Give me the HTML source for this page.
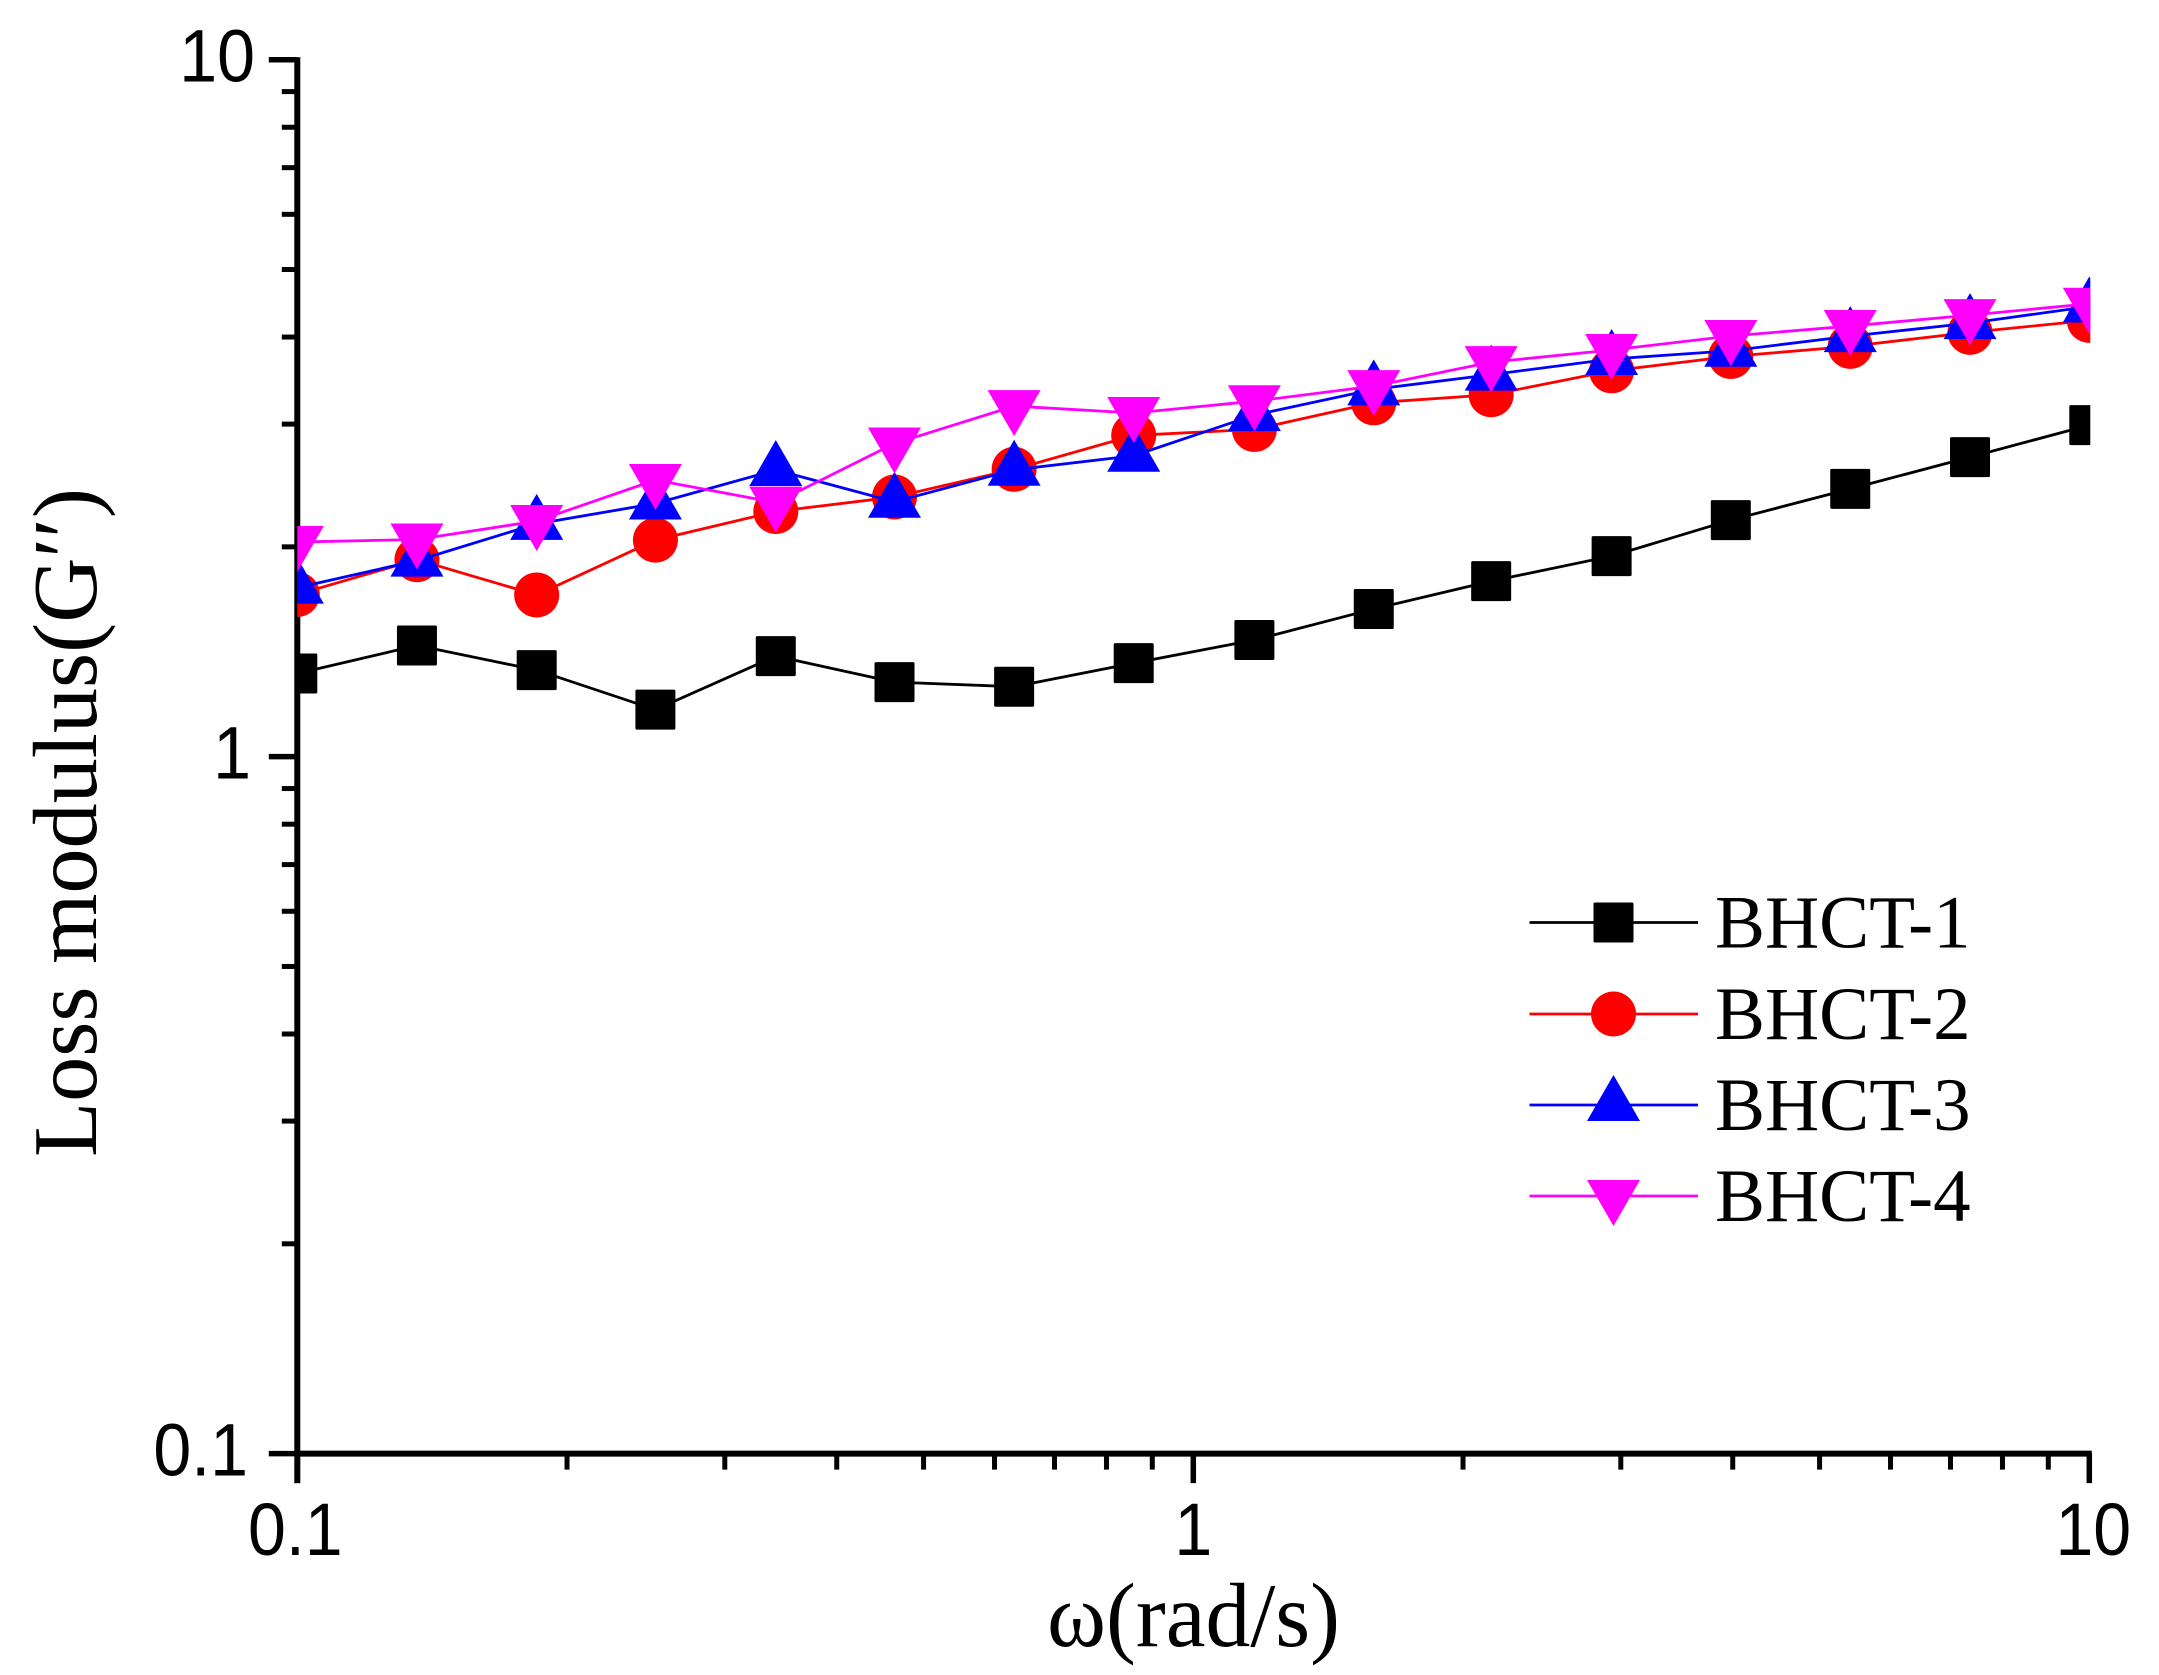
<!DOCTYPE html>
<html>
<head>
<meta charset="utf-8">
<title>Loss modulus chart</title>
<style>
html,body{margin:0;padding:0;background:#fff;}
svg{display:block;}
.tick-text{font-family:"Liberation Sans",sans-serif;font-size:74px;fill:#000;}
.serif-text{font-family:"Liberation Serif",serif;fill:#000;}
</style>
</head>
<body>
<svg id="chart" xmlns="http://www.w3.org/2000/svg" width="2159" height="1675" viewBox="0 0 2159 1675">
<defs><clipPath id="plot-clip"><rect x="297.3" y="0" width="1793" height="1675"/></clipPath></defs>
<rect x="0" y="0" width="2159" height="1675" fill="#ffffff"/>
<g id="axes"></g>
<g id="series" clip-path="url(#plot-clip)"></g>
<g id="legend"></g>
<text class="serif-text" x="1047" y="1646" font-size="91" textLength="293" lengthAdjust="spacingAndGlyphs">ω(rad/s)</text>
<text class="serif-text" transform="translate(96,1157) rotate(-90)" x="0" y="0" font-size="91" textLength="669" lengthAdjust="spacingAndGlyphs">Loss modulus(G′′)</text>
</svg>
<script>
var frequencies = [0.1, 0.136, 0.185, 0.251, 0.342, 0.464, 0.631, 0.858, 1.17, 1.59, 2.15, 2.93, 3.98, 5.41, 7.36, 10];
var bhct1 = [1.316, 1.444, 1.331, 1.168, 1.394, 1.279, 1.26, 1.362, 1.47, 1.629, 1.786, 1.94, 2.185, 2.422, 2.69, 2.99];
var bhct2 = [1.709, 1.917, 1.706, 2.045, 2.248, 2.358, 2.584, 2.89, 2.948, 3.219, 3.306, 3.578, 3.752, 3.879, 4.062, 4.227];
var bhct3 = [1.748, 1.911, 2.158, 2.308, 2.578, 2.321, 2.58, 2.702, 3.091, 3.365, 3.533, 3.72, 3.823, 4.012, 4.188, 4.425];
var bhct4 = [2.032, 2.049, 2.178, 2.494, 2.315, 2.814, 3.184, 3.112, 3.236, 3.401, 3.682, 3.832, 4.014, 4.148, 4.301, 4.465];
var seriesNames = ["BHCT-1", "BHCT-2", "BHCT-3", "BHCT-4"];
var seriesColors = ["#000000", "#ff0000", "#0000ff", "#ff00ff"];
var majorTickValues = [0.1, 1, 10];
var majorTickLabels = ["0.1", "1", "10"];
var minorMultipliers = [2, 3, 4, 5, 6, 7, 8, 9];

var NS = "http://www.w3.org/2000/svg";
var LEFT = 297.3, RIGHT = 2089.3, TOP = 59.7, BOTTOM = 1453.6;
function xAxis(v) { return LEFT + (Math.log10(v) + 1) / 2 * (RIGHT - LEFT); }
function yAxis(v) { return BOTTOM - (Math.log10(v) + 1) / 2 * (BOTTOM - TOP); }
function make(tag, attrs, parent) {
  var el = document.createElementNS(NS, tag);
  for (var k in attrs) el.setAttribute(k, attrs[k]);
  parent.appendChild(el);
  return el;
}
function marker(kind, x, y, color, parent) {
  var el;
  if (kind === 0) {
    el = make("rect", {x: x - 20, y: y - 20, width: 40, height: 40, rx: 1.5, fill: color}, parent);
  } else if (kind === 1) {
    el = make("circle", {cx: x, cy: y, r: 22.5, fill: color}, parent);
  } else if (kind === 2) {
    el = make("polygon", {points: x + "," + (y - 30) + " " + (x + 26.5) + "," + (y + 16) + " " + (x - 26.5) + "," + (y + 16), fill: color}, parent);
  } else {
    el = make("polygon", {points: x + "," + (y + 30) + " " + (x + 26.5) + "," + (y - 16) + " " + (x - 26.5) + "," + (y - 16), fill: color}, parent);
  }
  return el;
}

var axes = document.getElementById("axes");
var yLine = make("line", {x1: LEFT, y1: TOP - 2.5, x2: LEFT, y2: BOTTOM + 29.5, stroke: "#000", "stroke-width": 6}, axes);


var xLine = make("line", {x1: LEFT, y1: BOTTOM, x2: RIGHT + 2.5, y2: BOTTOM, stroke: "#000", "stroke-width": 6}, axes);



majorTickValues.forEach(function (v, i) {
  var yt = make("line", {x1: LEFT - 28.5, y1: yAxis(v), x2: LEFT, y2: yAxis(v), stroke: "#000", "stroke-width": 5.5}, axes);
  
  
  var xt = make("line", {x1: xAxis(v), y1: BOTTOM, x2: xAxis(v), y2: BOTTOM + 29.5, stroke: "#000", "stroke-width": 5.5}, axes);
  
  
  var yNudge = v < 1 ? -3 : (v > 1 ? 4 : 0);
  var yl = make("text", {"class": "tick-text", transform: "translate(" + (251 + yNudge) + "," + (yAxis(v) + 22) + ") scale(0.92,1)", "text-anchor": "end"}, axes);
  yl.textContent = majorTickLabels[i];
  
  
  var xNudge = v < 1 ? -2 : (v > 1 ? 4 : 0);
  var xl = make("text", {"class": "tick-text", transform: "translate(" + (xAxis(v) + xNudge) + ",1555) scale(0.92,1)", "text-anchor": "middle"}, axes);
  xl.textContent = majorTickLabels[i];
  
  
});
[0.1, 1].forEach(function (decade) {
  minorMultipliers.forEach(function (m) {
    var v = decade * m;
    var yt = make("line", {x1: LEFT - 15.5, y1: yAxis(v), x2: LEFT, y2: yAxis(v), stroke: "#000", "stroke-width": 5}, axes);
    
    
    var xt = make("line", {x1: xAxis(v), y1: BOTTOM, x2: xAxis(v), y2: BOTTOM + 16, stroke: "#000", "stroke-width": 5}, axes);
    
    
  });
});

var seriesGroup = document.getElementById("series");
[bhct1, bhct2, bhct3, bhct4].forEach(function (vals, s) {
  var g = make("g", {}, seriesGroup);
  
  
  var pts = vals.map(function (v, i) { return xAxis(frequencies[i]) + "," + yAxis(v); }).join(" ");
  var line = make("polyline", {points: pts, fill: "none", stroke: seriesColors[s], "stroke-width": 2.8}, g);
  
  
  vals.forEach(function (v, i) {
    var m = marker(s, xAxis(frequencies[i]), yAxis(v), seriesColors[s], g);
    
    
  });
});

var legend = document.getElementById("legend");
var legendYs = [922.5, 1014, 1105, 1196];
seriesNames.forEach(function (name, s) {
  var ly = legendYs[s];
  var g = make("g", {}, legend);
  
  
  var l = make("line", {x1: 1529.5, y1: ly, x2: 1698, y2: ly, stroke: seriesColors[s], "stroke-width": 2.8}, g);
  
  
  var m = marker(s, 1613.5, ly, seriesColors[s], g);
  
  
  var t = make("text", {"class": "serif-text", x: 1715, y: ly + 25, "font-size": 75}, g);
  t.textContent = name;
  
  
});
</script>
</body>
</html>
